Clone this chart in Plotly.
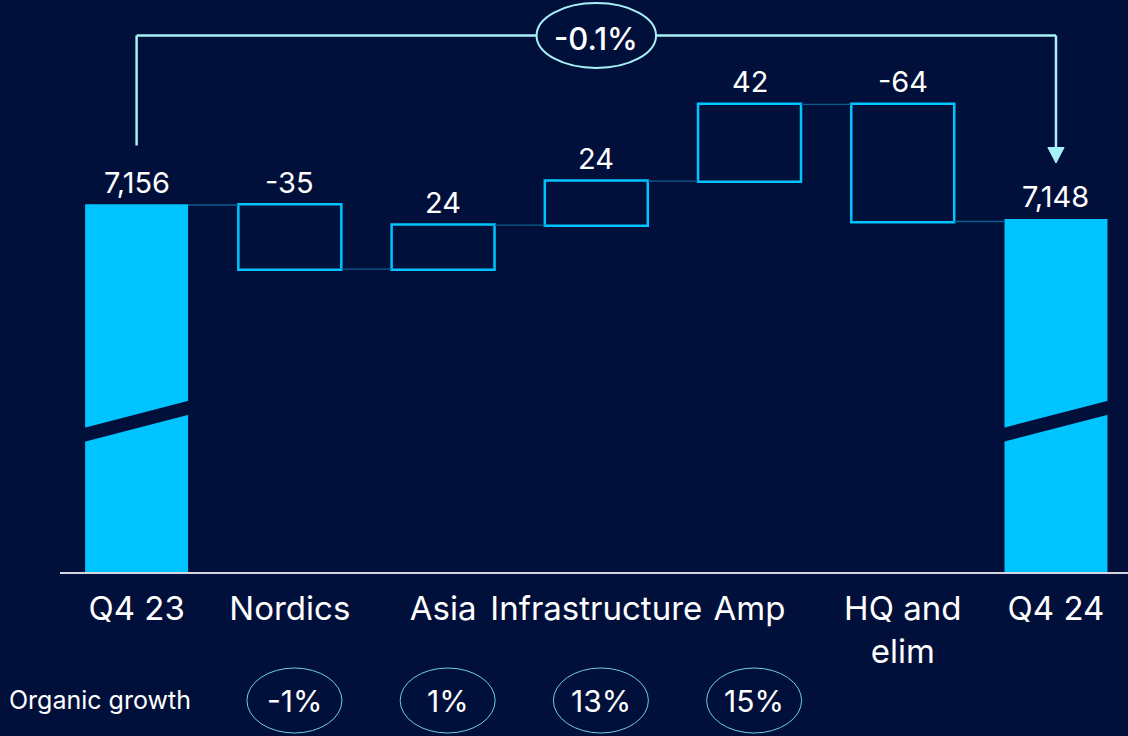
import plotly.graph_objects as go

# Revenue bridge, Q4 23 -> Q4 24
categories = ["Q4 23", "Nordics", "Asia", "Infrastructure", "Amp", "HQ and<br>elim", "Q4 24"]
values = [7156, -35, 24, 24, 42, -64, 7148]
measures = ["absolute", "relative", "relative", "relative", "relative", "relative", "absolute"]
value_labels = ["7,156", "-35", "24", "24", "42", "-64", "7,148"]

growth_categories = ["Nordics", "Asia", "Infrastructure", "Amp"]
organic_growth = ["-1%", "1%", "13%", "15%"]
total_change = "-0.1%"

BG = "#01103A"
CYAN = "#00C4FF"
BRACKET = "#A6F2F7"
FONT = "Inter"

W, H = 1128, 736
PLOT_BOTTOM = 572  # pixel row of the baseline
Y_RANGE = [6955.5, 7268]
BAR_W = 0.672

xs = list(range(len(categories)))


def py(p):
    """Pixel row -> paper y (plot area spans rows 0..PLOT_BOTTOM)."""
    return (PLOT_BOTTOM - p) / PLOT_BOTTOM


# running levels to place the value labels on top of each bar
tops = []
level = 0
for v, m in zip(values, measures):
    if m == "absolute":
        level = v
        tops.append(v)
    else:
        start = level
        level += v
        tops.append(max(start, level))

fig = go.Figure()
fig.add_trace(go.Waterfall(
    x=xs, y=values, measure=measures, width=BAR_W,
    increasing=dict(marker=dict(color=BG, line=dict(color=CYAN, width=2.5))),
    decreasing=dict(marker=dict(color=BG, line=dict(color=CYAN, width=2.5))),
    totals=dict(marker=dict(color=CYAN, line=dict(color=CYAN, width=0))),
    connector=dict(mode="between", line=dict(color="#0B5E8E", width=1.3)),
    textinfo="none", hoverinfo="skip",
))

annotations = []
for x, top, lab in zip(xs, tops, value_labels):
    annotations.append(dict(
        x=x, y=top, xref="x", yref="y", text=lab, showarrow=False,
        yanchor="middle", yshift=23, font=dict(family=FONT, size=29, color="white"),
    ))

shapes = []
# axis-break bands on the two total bars
for i, m in enumerate(measures):
    if m == "absolute":
        x0, x1 = i - BAR_W / 2 - 0.01, i + BAR_W / 2 + 0.01
        shapes.append(dict(
            type="path", xref="x", yref="paper", layer="above",
            path=f"M {x0},{py(428)} L {x1},{py(400.5)} L {x1},{py(414.5)} L {x0},{py(442)} Z",
            fillcolor=BG, line=dict(width=0),
        ))

# bracket showing the total change between the two totals
first, last = xs[0], xs[-1]
mid = (first + last) / 2
half_e = 0.39
line_style = dict(color=BRACKET, width=2.5)
shapes += [
    dict(type="line", xref="x", yref="paper", x0=first, x1=first, y0=py(145.5), y1=py(35.5), line=line_style),
    dict(type="line", xref="x", yref="paper", x0=first, x1=mid - half_e, y0=py(35.5), y1=py(35.5), line=line_style),
    dict(type="line", xref="x", yref="paper", x0=mid + half_e, x1=last, y0=py(35.5), y1=py(35.5), line=line_style),
    dict(type="line", xref="x", yref="paper", x0=last, x1=last, y0=py(35.5), y1=py(149), line=line_style),
    dict(type="path", xref="x", yref="paper",
         path=f"M {last - 0.053},{py(147.5)} L {last + 0.053},{py(147.5)} L {last},{py(163)} Z",
         fillcolor=BRACKET, line=dict(color=BRACKET, width=1)),
    dict(type="circle", xref="x", yref="paper", x0=mid - half_e, x1=mid + half_e,
         y0=py(68), y1=py(3), line=dict(color=BRACKET, width=2), fillcolor=BG),
]
annotations.append(dict(
    x=mid, y=py(38), xref="x", yref="paper", text=total_change, showarrow=False,
    yanchor="middle", font=dict(family=FONT, size=31, color="white", weight=500),
))

# organic growth row
annotations.append(dict(
    x=(7 - 60) / (W - 60), y=py(700), xref="paper", yref="paper", xanchor="left",
    yanchor="middle", text="Organic growth", showarrow=False,
    font=dict(family=FONT, size=25, color="white"),
))
for cat, g in zip(growth_categories, organic_growth):
    cx = [c.replace("<br>", " ") for c in categories].index(cat) + 0.03
    shapes.append(dict(
        type="circle", xref="x", yref="paper", x0=cx - 0.31, x1=cx + 0.31,
        y0=py(733), y1=py(668), line=dict(color="#6FCFDC", width=1),
    ))
    annotations.append(dict(
        x=cx, y=py(701), xref="x", yref="paper", text=g, showarrow=False,
        yanchor="middle", font=dict(family=FONT, size=30, color="white"),
    ))

fig.update_layout(
    width=W, height=H,
    margin=dict(l=60, r=0, t=0, b=H - PLOT_BOTTOM),
    paper_bgcolor=BG, plot_bgcolor=BG,
    showlegend=False, hovermode=False,
    shapes=shapes, annotations=annotations,
    xaxis=dict(
        range=[-0.5, 6.47], tickmode="array", tickvals=xs, ticktext=categories,
        showgrid=False, zeroline=False, showline=True, linecolor="#D5D8E3", linewidth=2,
        ticks="", tickfont=dict(family=FONT, size=33, color="white"), ticklabelstandoff=6,
        fixedrange=True,
    ),
    yaxis=dict(range=Y_RANGE, visible=False, fixedrange=True),
)

fig.write_html("out.html", config=dict(displayModeBar=False))
